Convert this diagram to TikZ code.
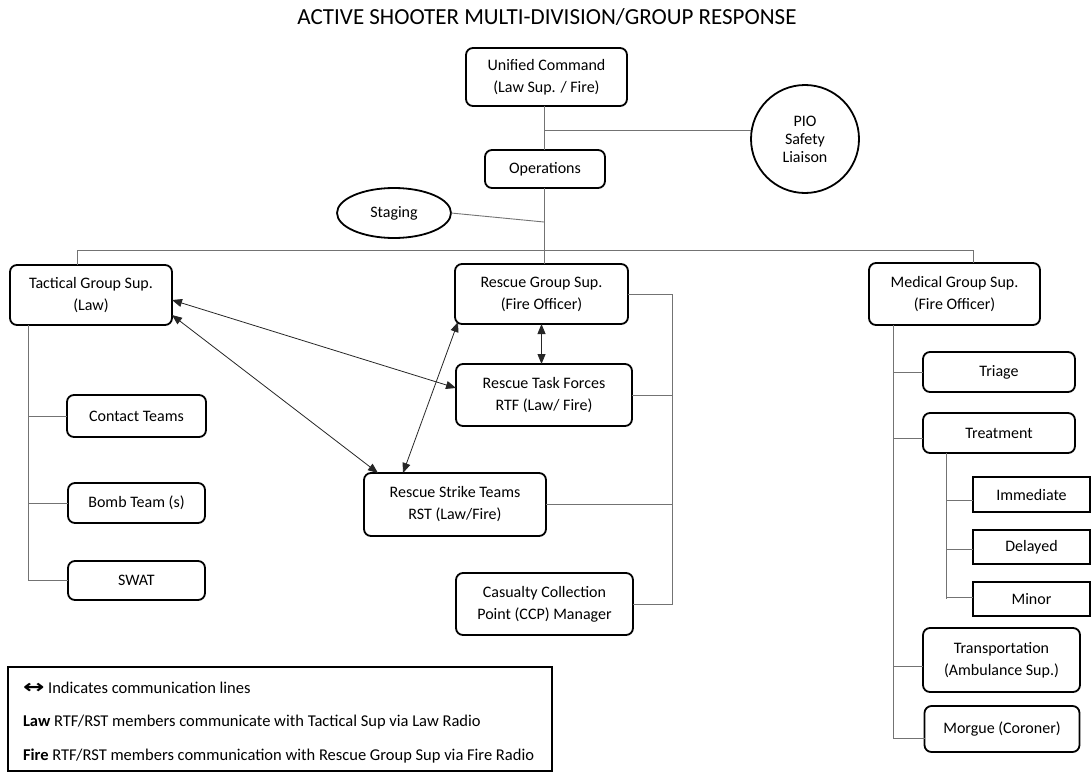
\documentclass[tikz,border=0pt]{standalone}
\usepackage{fontspec}
\setmainfont{Carlito}
\newfontfamily\djv{DejaVu Sans}
\usetikzlibrary{arrows.meta,shapes.geometric,calc}
\begin{document}
\begin{tikzpicture}[x=1pt,y=-1pt,
  every node/.style={inner sep=0pt, outer sep=0pt},
  bx/.style={draw, line width=1.8pt, rounded corners=7pt, align=center,
    font=\fontsize{16}{22}\selectfont},
  sqbx/.style={draw, line width=1.8pt, align=center,
    font=\fontsize{16}{22}\selectfont},
  sz/.style 2 args={minimum width=#1, minimum height=#2},
  conn/.style={draw=black!55, line width=0.9pt},
  comm/.style={draw=black!85, line width=0.8pt,
    {Triangle[length=10pt,width=8pt]}-{Triangle[length=10pt,width=8pt]}},
  lgtxt/.style={anchor=west, font=\fontsize{16.5}{20}\selectfont}
]
\useasboundingbox (0,0) rectangle (1091,773);

% title
\node[anchor=base, font=\fontsize{23}{26}\selectfont] (title) at (547,25)
  {ACTIVE SHOOTER MULTI-DIVISION/GROUP RESPONSE};

% command level
\node[bx, sz={161}{58}] (uc) at (546.5,77) {Unified Command\\(Law Sup. / Fire)};
\node[draw, circle, line width=1.8pt, minimum size=108, align=center,
  font=\fontsize{16}{18}\selectfont] (pio) at (805,139) {PIO\\Safety\\Liaison};
\node[bx, sz={120}{38}] (ops) at (545,169) {Operations};
\node[draw, ellipse, line width=1.8pt, minimum width=114, minimum height=50,
  font=\fontsize{16}{22}\selectfont] (stg) at (394,213) {Staging};

% tactical
\node[bx, sz={162}{60}] (tac) at (91,295) {Tactical Group Sup.\\(Law)};
\node[bx, sz={139}{42}] (ct) at (136.5,416) {Contact Teams};
\node[bx, sz={137}{40}] (bt) at (136.5,503) {Bomb Team (s)};
\node[bx, sz={137}{39}] (sw) at (136.5,580.5) {SWAT};

% rescue
\node[bx, sz={173}{60}] (rg) at (541.5,294) {Rescue Group Sup.\\(Fire Officer)};
\node[bx, sz={176}{62}] (rtf) at (544,395) {Rescue Task Forces\\RTF (Law/ Fire)};
\node[bx, sz={182}{63}] (rst) at (455,504.5) {Rescue Strike Teams\\RST (Law/Fire)};
\node[bx, sz={177}{62}] (ccp) at (544.5,604) {Casualty Collection\\Point (CCP) Manager};

% medical
\node[bx, sz={171}{62}] (med) at (954.5,294) {Medical Group Sup.\\(Fire Officer)};
\node[bx, sz={152}{40}] (tri) at (999,372) {Triage};
\node[bx, sz={152}{40}] (trt) at (999,433) {Treatment};
\node[sqbx, sz={117}{35}] (imm) at (1031.5,494.5) {Immediate};
\node[sqbx, sz={117}{34}] (dly) at (1031.5,547) {Delayed};
\node[sqbx, sz={117}{34}] (mnr) at (1031.5,599) {Minor};
\node[bx, sz={157}{64}] (trn) at (1001.5,660) {Transportation\\(Ambulance Sup.)};
\node[bx, sz={155}{46}] (mrg) at (1002,729) {Morgue (Coroner)};

% junction coordinates
\coordinate (spine) at (544,250);
\coordinate (pioj) at (544,130);
\coordinate (stgj) at (544,222);
\coordinate (busL) at (77,250);
\coordinate (busR) at (973,250);
\coordinate (tacv) at (28,0);
\coordinate (rb) at (672,0);
\coordinate (mv) at (893,0);
\coordinate (tv) at (946,0);

% command connectors
\draw[conn] (uc.south -| spine) -- (ops.north -| spine);
\draw[conn] (ops.south -| spine) -- (rg.north -| spine);
\draw[conn] (pioj) -- (pioj -| pio.west);
\draw[conn] (stg.east) -- (stgj);
\draw[conn] (busL |- tac.north) -- (busL) -- (busR) -- (busR |- med.north);

% tactical tree
\draw[conn] (tac.south -| tacv) -- (tacv |- sw.west) -- (sw.west);
\draw[conn] (tacv |- ct.west) -- (ct.west);
\draw[conn] (tacv |- bt.west) -- (bt.west);

% rescue bracket
\draw[conn] (rg.east) -- (rg.east -| rb) -- (rb |- ccp.east) -- (ccp.east);
\draw[conn] (rtf.east) -- (rtf.east -| rb);
\draw[conn] (rst.east) -- (rst.east -| rb);

% medical tree
\coordinate (mrgj) at ([yshift=-9pt]mrg.west);
\draw[conn] (med.south -| mv) -- (mv |- mrgj) -- (mrgj);
\draw[conn] (mv |- tri.west) -- (tri.west);
\draw[conn] (mv |- trt.west) ++(0,5) coordinate (trtj) -- (trtj -| trt.west);
\draw[conn] (mv |- trn.west) ++(0,6) coordinate (trnj) -- (trnj -| trn.west);
\draw[conn] (trt.south -| tv) -- (tv |- mnr.west) ++(0,-2) coordinate (mnrj) -- (mnrj -| mnr.west);
\draw[conn] (tv |- imm.west) ++(0,6) coordinate (immj) -- (immj -| imm.west);
\draw[conn] (tv |- dly.west) ++(0,2) coordinate (dlyj) -- (dlyj -| dly.west);

% communication arrows
\draw[comm] ([yshift=-5pt]tac.east) -- ([yshift=7pt]rtf.west);
\draw[comm] ([yshift=-20pt]tac.east) -- ([xshift=-77pt]rst.north);
\draw[comm] ([xshift=3pt,yshift=2pt]rg.south west) -- ([xshift=-52pt]rst.north);
\draw[comm] (rg.south) -- (rg.south |- rtf.north);

% legend
\node[draw, line width=1.8pt, minimum width=544, minimum height=104] (lgd) at (280,719) {};
\node[lgtxt] (l1) at (23,688) {\raisebox{-0.5pt}{\scalebox{1.55}[1.15]{\djv\bfseries ↔}} Indicates communication lines};
\node[lgtxt] (l2) at (23,722) {\textbf{Law} RTF/RST members communicate with Tactical Sup via Law Radio};
\node[lgtxt] (l3) at (23,756) {\textbf{Fire} RTF/RST members communication with Rescue Group Sup via Fire Radio};
\end{tikzpicture}
\end{document}
